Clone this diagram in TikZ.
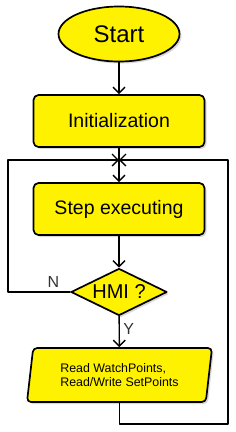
\documentclass[tikz,border=0pt]{standalone}
\usepackage{fontspec}
\setmainfont{Liberation Sans}
\usetikzlibrary{shapes.geometric,arrows.meta,shadows}
\definecolor{boxyellow}{RGB}{255,242,0}
\tikzset{
	base/.style={draw, line width=1.7pt, fill=boxyellow, inner sep=0pt,
		drop shadow={shadow xshift=2pt, shadow yshift=-2pt, opacity=.3}},
	term/.style={base, ellipse, minimum width=121pt, minimum height=55pt, font=\fontsize{24}{28}\selectfont},
	proc/.style={base, rounded corners=5pt, minimum width=171pt, minimum height=52pt, font=\fontsize{19.5}{23}\selectfont},
	dec/.style={base, diamond, aspect=2, minimum width=96pt, minimum height=47pt, font=\fontsize{20}{24}\selectfont},
	io/.style={base, trapezium, trapezium left angle=75, trapezium right angle=105, trapezium stretches body,
		rounded corners=4pt, minimum width=185pt, minimum height=54pt, align=left, font=\fontsize{12.4}{14}\selectfont},
	lbl/.style={text=black!80, font=\fontsize{16}{18}\selectfont}
}
\begin{document}
\begin{tikzpicture}[x=1pt, y=-1pt, >={Straight Barb[length=6pt,width=12pt]}, line width=1.4pt, line join=round, line cap=round]
	\def\xl{8} \def\xr{228} % loop sides
	\useasboundingbox (0,0) rectangle (236,432);

	\node[term] (start) at (119,34) {Start};
	\node[proc] (init) at (119,121) {Initialization};
	\coordinate (join) at (119,160);
	\node[proc] (step) at (119,209) {Step executing};
	\node[dec] (hmi) at (119,292) {HMI ?};
	\node[io] (rw) at (119.5,375) {Read WatchPoints,\\Read/Write SetPoints};
	\coordinate (lft) at (\xl,160);
	\coordinate (rgt) at (\xr,160);

	\draw[->] (start) -- (init);
	\draw (init) -- (join);
	\draw[->] (join) -- (step);
	\draw[->] (step) -- (hmi);
	\draw[->] (hmi) -- node[lbl, right, pos=.4]{Y} (rw);
	% back to the loop
	\draw[->] (hmi.west) -- node[lbl, above, pos=.27]{N} (hmi.west -| lft) -- (lft) -- (join);
	\draw[->] (rw.south) -- ++(0,21) -| (rgt) -- (join);
\end{tikzpicture}
\end{document}
